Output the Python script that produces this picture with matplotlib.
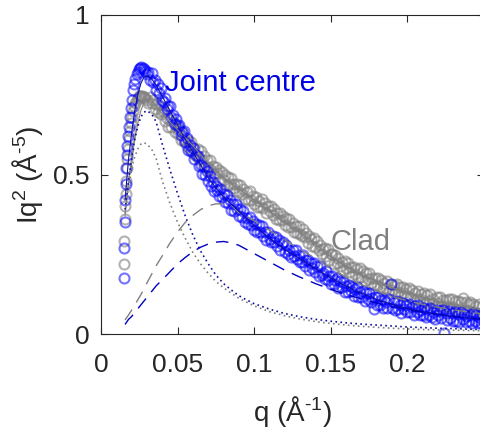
import matplotlib
matplotlib.use('Agg')
import matplotlib.pyplot as plt

plt.rcParams['font.family'] = ['Liberation Sans', 'DejaVu Sans']
plt.rcParams['mathtext.fontset'] = 'custom'
plt.rcParams['mathtext.rm'] = 'Liberation Sans'
plt.rcParams['mathtext.it'] = 'Liberation Sans:italic'

# measured q values (A^-1), shared by both samples
q_data = [0.0148, 0.0151, 0.0154, 0.0157, 0.0160, 0.0164, 0.0168, 0.0172, 0.0177, 0.0182,
          0.0188, 0.0194, 0.0200, 0.0208, 0.0216, 0.0224, 0.0232, 0.0240, 0.0248, 0.0256,
          0.0264, 0.0272, 0.0280, 0.0290, 0.0300,
          0.031, 0.032, 0.033, 0.034, 0.035, 0.036, 0.037, 0.038, 0.039, 0.040,
          0.041, 0.042, 0.043, 0.044, 0.045, 0.046, 0.047, 0.048, 0.049, 0.050,
          0.051, 0.052, 0.053, 0.054, 0.055, 0.056, 0.057, 0.058, 0.059, 0.060,
          0.061, 0.062, 0.063, 0.064, 0.065, 0.066, 0.067, 0.068, 0.069, 0.070,
          0.071, 0.072, 0.073, 0.074, 0.075, 0.076, 0.077, 0.078, 0.079, 0.080,
          0.081, 0.082, 0.083, 0.084, 0.085, 0.086, 0.087, 0.088, 0.089, 0.090,
          0.091, 0.092, 0.093, 0.094, 0.095, 0.096, 0.097, 0.098, 0.099, 0.100,
          0.101, 0.102, 0.103, 0.104, 0.105, 0.106, 0.107, 0.108, 0.109, 0.110,
          0.111, 0.112, 0.113, 0.114, 0.115, 0.116, 0.117, 0.118, 0.119, 0.120,
          0.121, 0.122, 0.123, 0.124, 0.125, 0.126, 0.127, 0.128, 0.129, 0.130,
          0.131, 0.132, 0.133, 0.134, 0.135, 0.136, 0.137, 0.138, 0.139, 0.140,
          0.141, 0.142, 0.143, 0.144, 0.145, 0.146, 0.147, 0.148, 0.149, 0.150,
          0.151, 0.152, 0.153, 0.154, 0.155, 0.156, 0.157, 0.158, 0.159, 0.160,
          0.161, 0.162, 0.163, 0.164, 0.165, 0.166, 0.167, 0.168, 0.169, 0.170,
          0.171, 0.172, 0.173, 0.174, 0.175, 0.176, 0.177, 0.178, 0.179, 0.180,
          0.181, 0.182, 0.183, 0.184, 0.185, 0.186, 0.187, 0.188, 0.189, 0.190,
          0.191, 0.192, 0.193, 0.194, 0.195, 0.196, 0.197, 0.198, 0.199, 0.200,
          0.201, 0.202, 0.203, 0.204, 0.205, 0.206, 0.207, 0.208, 0.209, 0.210,
          0.211, 0.212, 0.213, 0.214, 0.215, 0.216, 0.217, 0.218, 0.219, 0.220,
          0.221, 0.222, 0.223, 0.224, 0.225, 0.226, 0.227, 0.228, 0.229, 0.230,
          0.231, 0.232, 0.233, 0.234, 0.235, 0.236, 0.237, 0.238, 0.239, 0.240,
          0.241, 0.242, 0.243, 0.244, 0.245, 0.246, 0.247, 0.248, 0.249, 0.250]

joint_data = [0.175, 0.27, 0.35, 0.42, 0.47, 0.52, 0.56, 0.59, 0.62, 0.65,
              0.68, 0.71, 0.735, 0.765, 0.785, 0.80, 0.815, 0.82, 0.83, 0.835,
              0.838, 0.833, 0.83, 0.825, 0.815,
              0.822, 0.795, 0.818, 0.791, 0.796, 0.766, 0.783, 0.756, 0.770, 0.733,
              0.728, 0.741, 0.706, 0.715, 0.716, 0.681, 0.686, 0.658, 0.675, 0.652,
              0.656, 0.623, 0.632, 0.636, 0.601, 0.614, 0.578, 0.593, 0.573, 0.583,
              0.549, 0.561, 0.559, 0.526, 0.531, 0.503, 0.523, 0.499, 0.511, 0.481,
              0.496, 0.465, 0.475, 0.447, 0.465, 0.452, 0.432, 0.456, 0.428, 0.439,
              0.415, 0.435, 0.411, 0.421, 0.389, 0.408, 0.385, 0.406, 0.392, 0.371,
              0.392, 0.367, 0.386, 0.352, 0.365, 0.346, 0.366, 0.342, 0.353, 0.325,
              0.345, 0.319, 0.343, 0.321, 0.340, 0.308, 0.320, 0.296, 0.319, 0.298,
              0.288, 0.308, 0.288, 0.305, 0.277, 0.295, 0.264, 0.282, 0.288, 0.257,
              0.279, 0.250, 0.264, 0.240, 0.264, 0.246, 0.264, 0.234, 0.249, 0.225,
              0.226, 0.247, 0.214, 0.231, 0.233, 0.201, 0.224, 0.206, 0.223, 0.194,
              0.213, 0.183, 0.213, 0.186, 0.192, 0.172, 0.196, 0.169, 0.182, 0.156,
              0.182, 0.156, 0.169, 0.177, 0.144, 0.165, 0.146, 0.162, 0.132, 0.151,
              0.132, 0.155, 0.134, 0.147, 0.118, 0.141, 0.146, 0.117, 0.131, 0.116,
              0.135, 0.105, 0.128, 0.111, 0.130, 0.101, 0.114, 0.078, 0.116, 0.091,
              0.117, 0.092, 0.106, 0.083, 0.108, 0.100, 0.082, 0.109, 0.156, 0.083,
              0.099, 0.074, 0.103, 0.078, 0.090, 0.067, 0.096, 0.078, 0.090, 0.068,
              0.094, 0.068, 0.084, 0.060, 0.087, 0.069, 0.090, 0.060, 0.075, 0.061,
              0.082, 0.053, 0.077, 0.060, 0.082, 0.053, 0.069, 0.047, 0.074, 0.058,
              0.073, 0.051, 0.075, 0.003, 0.066, 0.044, 0.073, 0.050, 0.066, 0.042,
              0.069, 0.042, 0.062, 0.037, 0.070, 0.047, 0.063, 0.037, 0.057, 0.041,
              0.060, 0.034, 0.065, 0.040, 0.060, 0.034, 0.054, 0.035, 0.061, 0.039]

clad_data = [0.22, 0.29, 0.36, 0.40, 0.44, 0.48, 0.52, 0.55, 0.58, 0.61,
             0.635, 0.66, 0.68, 0.70, 0.715, 0.725, 0.735, 0.74, 0.745, 0.745,
             0.745, 0.745, 0.742, 0.74, 0.735,
             0.723, 0.743, 0.723, 0.735, 0.705, 0.722, 0.696, 0.718, 0.690, 0.700,
             0.698, 0.667, 0.678, 0.650, 0.670, 0.650, 0.665, 0.632, 0.649, 0.627,
             0.641, 0.607, 0.634, 0.604, 0.609, 0.588, 0.608, 0.580, 0.601, 0.566,
             0.584, 0.557, 0.580, 0.550, 0.573, 0.545, 0.558, 0.526, 0.544, 0.523,
             0.546, 0.514, 0.528, 0.502, 0.525, 0.504, 0.513, 0.481, 0.508, 0.482,
             0.497, 0.466, 0.493, 0.470, 0.490, 0.457, 0.470, 0.447, 0.470, 0.446,
             0.466, 0.438, 0.456, 0.423, 0.445, 0.420, 0.447, 0.421, 0.433, 0.407,
             0.430, 0.399, 0.417, 0.397, 0.423, 0.394, 0.411, 0.379, 0.402, 0.385,
             0.402, 0.374, 0.392, 0.360, 0.379, 0.356, 0.380, 0.358, 0.369, 0.341,
             0.364, 0.334, 0.362, 0.334, 0.348, 0.319, 0.338, 0.317, 0.339, 0.315,
             0.307, 0.329, 0.304, 0.318, 0.285, 0.307, 0.298, 0.277, 0.302, 0.272,
             0.292, 0.262, 0.280, 0.250, 0.268, 0.271, 0.245, 0.267, 0.232, 0.250,
             0.250, 0.221, 0.249, 0.223, 0.239, 0.213, 0.226, 0.202, 0.228, 0.208,
             0.224, 0.194, 0.211, 0.183, 0.211, 0.189, 0.204, 0.177, 0.206, 0.178,
             0.198, 0.166, 0.190, 0.172, 0.190, 0.161, 0.177, 0.153, 0.177, 0.155,
             0.177, 0.148, 0.170, 0.142, 0.160, 0.143, 0.167, 0.136, 0.157, 0.139,
             0.155, 0.127, 0.156, 0.131, 0.148, 0.123, 0.148, 0.127, 0.140, 0.118,
             0.143, 0.117, 0.137, 0.108, 0.129, 0.109, 0.136, 0.110, 0.126, 0.101,
             0.127, 0.098, 0.121, 0.103, 0.124, 0.096, 0.111, 0.089, 0.115, 0.096,
             0.117, 0.088, 0.107, 0.083, 0.108, 0.087, 0.109, 0.081, 0.110, 0.085,
             0.103, 0.076, 0.104, 0.078, 0.100, 0.112, 0.074, 0.099, 0.076, 0.093,
             0.100, 0.070, 0.095, 0.065, 0.088, 0.066, 0.093, 0.067, 0.088, 0.067]

# model curves: total fit, dotted and dashed components
q_fit = [0.0157, 0.018, 0.020, 0.022, 0.024, 0.026, 0.028, 0.030, 0.033, 0.036,
         0.040, 0.045, 0.050, 0.055, 0.060, 0.065, 0.070, 0.075, 0.080, 0.085,
         0.090, 0.095, 0.100, 0.110, 0.120, 0.130, 0.140, 0.150, 0.160, 0.170,
         0.180, 0.190, 0.200, 0.210, 0.220, 0.230, 0.240, 0.250]

joint_fit = [0.42, 0.55, 0.63, 0.70, 0.75, 0.785, 0.805, 0.81, 0.80, 0.78,
             0.745, 0.70, 0.655, 0.61, 0.57, 0.53, 0.49, 0.458, 0.43, 0.407,
             0.385, 0.362, 0.34, 0.30, 0.265, 0.235, 0.205, 0.175, 0.15, 0.128,
             0.108, 0.093, 0.08, 0.07, 0.062, 0.055, 0.05, 0.045]
joint_dot = [0.39, 0.48, 0.55, 0.61, 0.65, 0.68, 0.695, 0.70, 0.69, 0.665,
             0.595, 0.515, 0.44, 0.37, 0.31, 0.26, 0.22, 0.185, 0.158, 0.138,
             0.12, 0.107, 0.095, 0.078, 0.064, 0.054, 0.046, 0.04, 0.035, 0.031,
             0.028, 0.025, 0.022, 0.02, 0.018, 0.017, 0.015, 0.014]
joint_dash = [0.03, 0.046, 0.055, 0.067, 0.079, 0.091, 0.103, 0.115, 0.133, 0.151,
              0.17, 0.195, 0.22, 0.24, 0.258, 0.272, 0.282, 0.288, 0.29, 0.286,
              0.278, 0.265, 0.252, 0.226, 0.20, 0.178, 0.158, 0.14, 0.124, 0.11,
              0.097, 0.085, 0.076, 0.068, 0.061, 0.055, 0.05, 0.045]

clad_fit = [0.37, 0.48, 0.55, 0.61, 0.66, 0.70, 0.725, 0.735, 0.73, 0.715,
            0.69, 0.665, 0.64, 0.615, 0.59, 0.562, 0.535, 0.512, 0.49, 0.472,
            0.455, 0.437, 0.42, 0.385, 0.35, 0.318, 0.282, 0.242, 0.212, 0.187,
            0.165, 0.145, 0.13, 0.115, 0.102, 0.092, 0.083, 0.075]
clad_dot = [0.38, 0.46, 0.52, 0.555, 0.58, 0.595, 0.60, 0.595, 0.58, 0.55,
            0.48, 0.41, 0.35, 0.30, 0.255, 0.22, 0.19, 0.165, 0.145, 0.128,
            0.112, 0.10, 0.088, 0.07, 0.057, 0.047, 0.039, 0.033, 0.028, 0.024,
            0.021, 0.018, 0.016, 0.014, 0.013, 0.012, 0.011, 0.010]
clad_dash = [0.044, 0.06, 0.075, 0.091, 0.107, 0.123, 0.141, 0.16, 0.187, 0.214,
             0.245, 0.285, 0.32, 0.35, 0.372, 0.39, 0.402, 0.408, 0.408, 0.404,
             0.38, 0.368, 0.355, 0.325, 0.295, 0.265, 0.237, 0.205, 0.178, 0.155,
             0.135, 0.118, 0.104, 0.093, 0.084, 0.076, 0.069, 0.063]

blue = '#0000ff'
navy = '#1010a0'
grey = '#808080'

fig = plt.figure(figsize=(4.81, 4.32), dpi=100)
ax = fig.add_axes([101 / 481, 98 / 432, 383 / 481, 319 / 432])

ax.plot(q_data, clad_data, 'o', mfc='none', mec=grey, mew=1.5, ms=7.2, alpha=0.6)
ax.plot(q_data, joint_data, 'o', mfc='none', mec=blue, mew=1.5, ms=7.2, alpha=0.55)

ax.plot(q_fit, clad_fit, '-', color=grey, lw=0.8)
ax.plot(q_fit, clad_dot, color=grey, lw=1.2, dashes=(1, 2))
ax.plot(q_fit, clad_dash, color=grey, lw=1.0, dashes=(9, 6))
ax.plot(q_fit, joint_fit, '-', color=navy, lw=0.8)
ax.plot(q_fit, joint_dot, color=navy, lw=1.2, dashes=(1, 2))
ax.plot(q_fit, joint_dash, color='#0000c0', lw=1.0, dashes=(9, 6))

ax.text(0.0417, 0.762, 'Joint centre', color='#0000e6', fontsize=21, va='baseline')
ax.text(0.150, 0.263, 'Clad', color=grey, fontsize=21, va='baseline')

ax.set_xlim(0, 0.25)
ax.set_ylim(0, 1)
ax.set_xticks([0, 0.05, 0.1, 0.15, 0.2])
ax.set_xticklabels(['0', '0.05', '0.1', '0.15', '0.2'])
ax.set_yticks([0, 0.5, 1])
ax.set_yticklabels(['0', '0.5', '1'])
ax.tick_params(direction='in', length=5, width=0.8, colors='#262626', labelsize=19,
               top=True, right=True, pad=14)
ax.tick_params(axis='y', pad=8)
for s in ax.spines.values():
    s.set_color('#262626')
    s.set_linewidth(0.8)

ax.set_xlabel(r'q (Å$^{\text{-1}}$)', fontsize=20, color='#262626', labelpad=12)
ax.set_ylabel(r'Iq$^2$ (Å$^{\text{-5}}$)', fontsize=20, color='#262626', labelpad=6)

fig.savefig('out.png', dpi=100)
